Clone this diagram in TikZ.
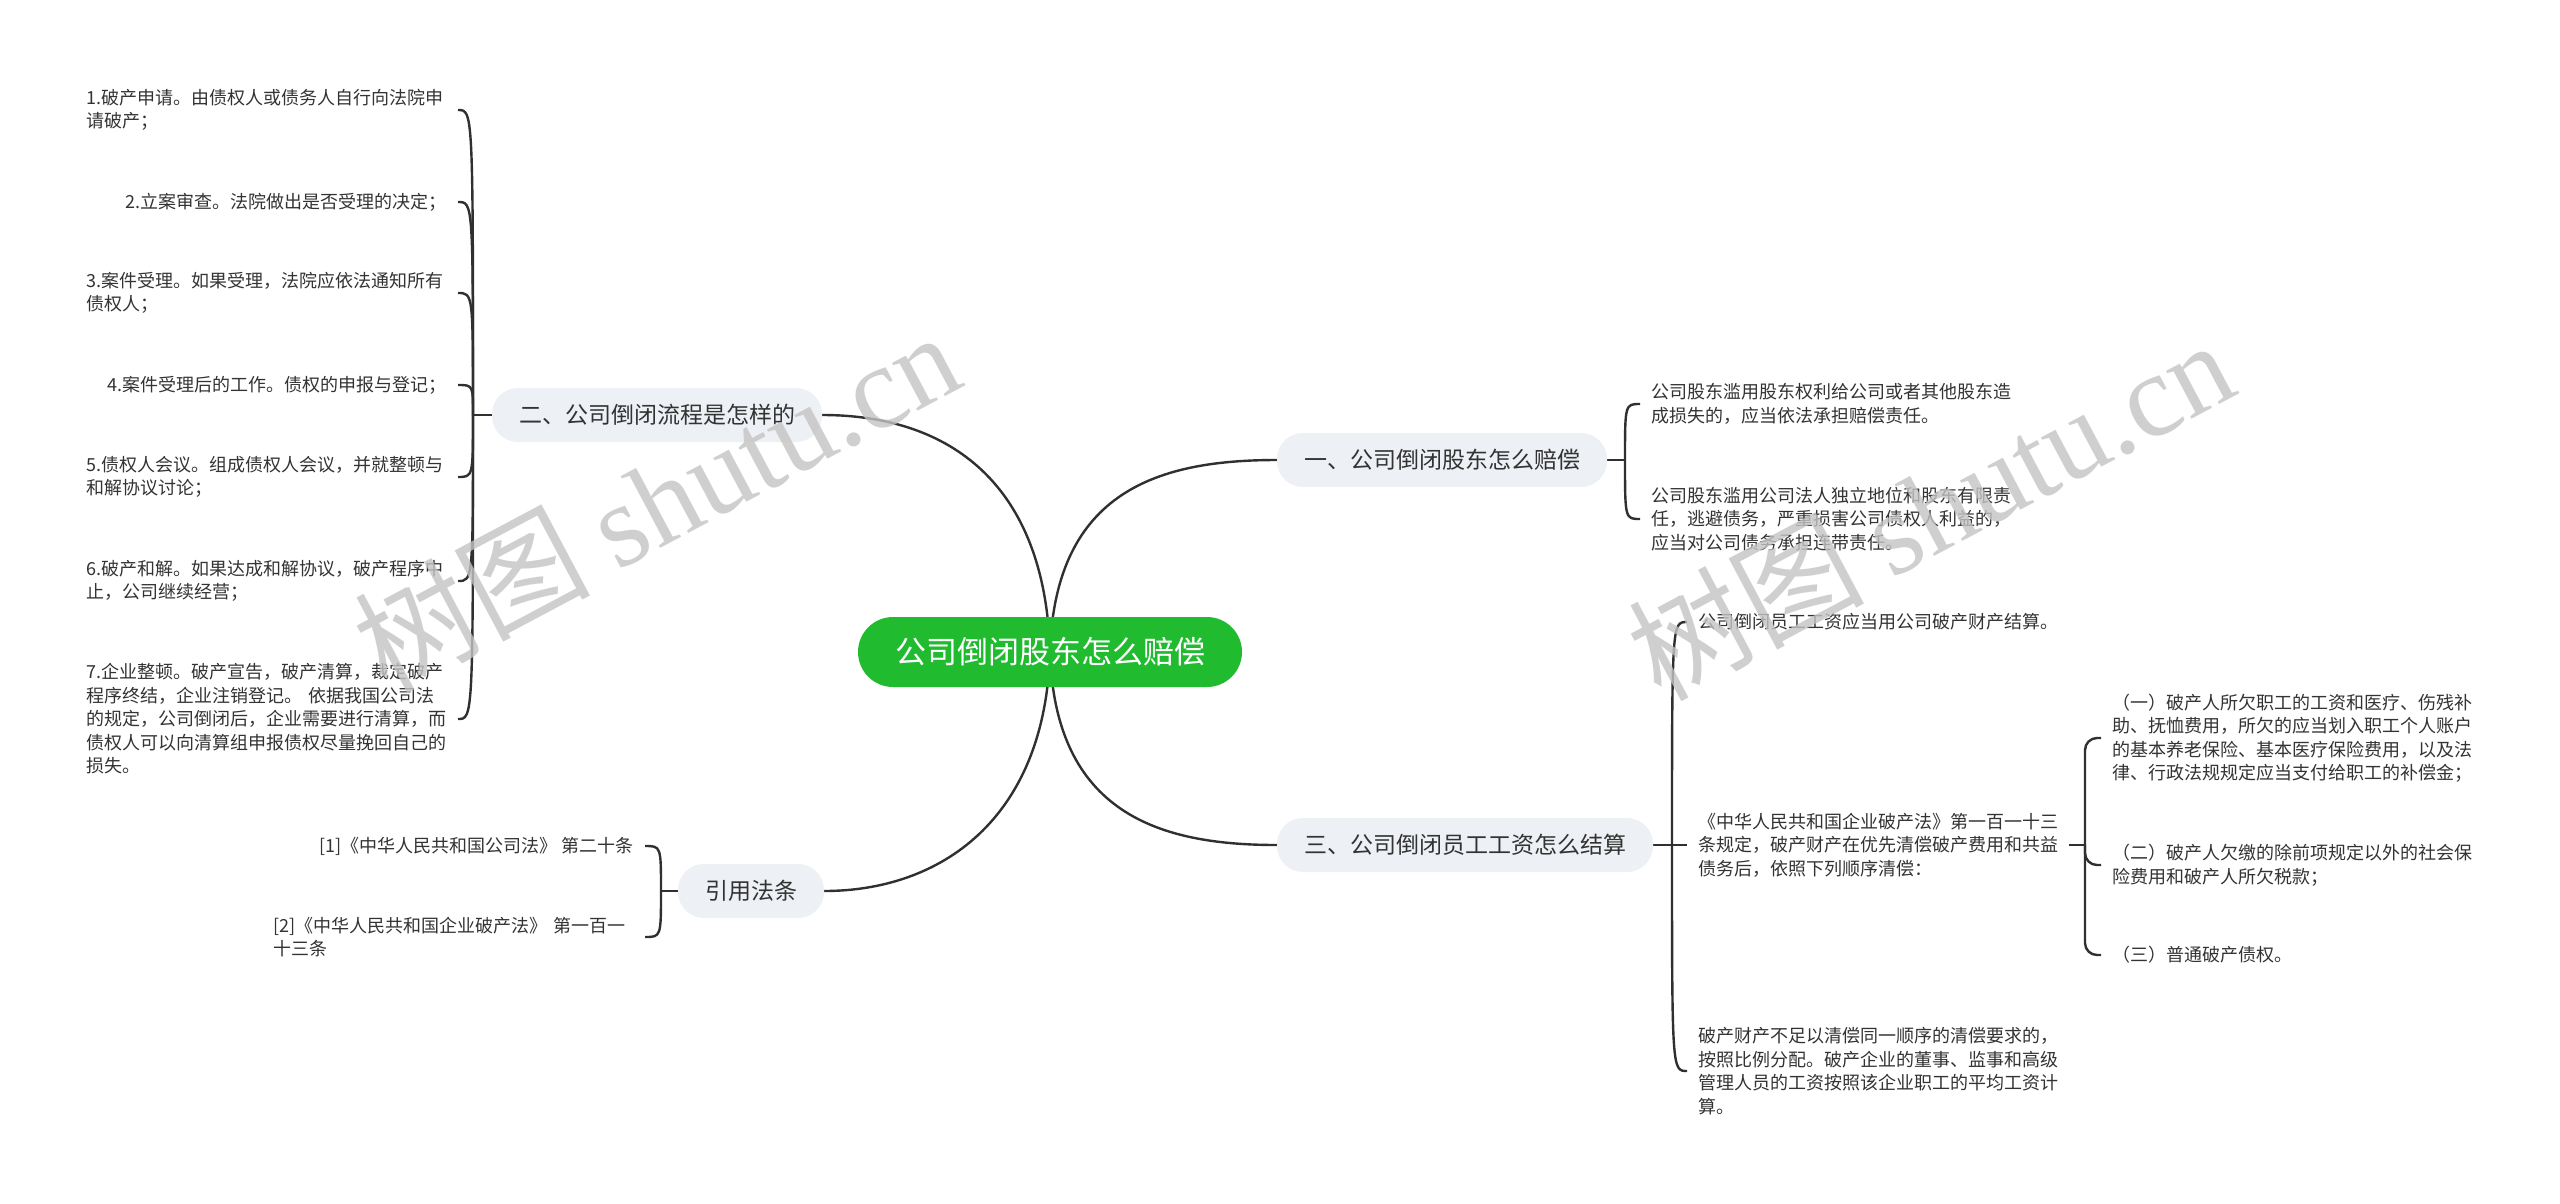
\documentclass[tikz,border=0pt]{standalone}
\usepackage{fontspec}
\setmainfont{Noto Sans CJK SC}
\newfontfamily\wmlatin{Liberation Serif}
\usetikzlibrary{backgrounds}
\definecolor{cgreen}{RGB}{32,187,46}
\definecolor{bgray}{RGB}{237,240,244}
\definecolor{tcol}{RGB}{51,51,51}
\definecolor{lcol}{RGB}{48,48,48}
\definecolor{wmcol}{RGB}{196,196,196}
\tikzset{
  central/.style={fill=cgreen, text=white, rounded corners=35pt, minimum height=70pt,
    inner xsep=37pt, inner ysep=0pt, font=\fontsize{31}{36}\selectfont},
  branch/.style={fill=bgray, text=tcol, rounded corners=26pt, minimum height=54pt,
    inner xsep=27pt, inner ysep=0pt, font=\fontsize{23}{28}\selectfont},
  leaf/.style={text=tcol, align=left, inner xsep=11pt, inner ysep=0pt,
    font=\fontsize{18}{23.5}\selectfont},
  wide/.style={text width=360pt},
  link/.style={draw=lcol, line width=2.4pt},
  orthlink/.style={link, rounded corners=12pt},
  wm/.style={text=wmcol, opacity=0.8, inner sep=0pt, font=\fontsize{118}{118}\selectfont}
}
\begin{document}
\begin{tikzpicture}[x=1pt, y=-1pt]
\begin{pgfonlayer}{background}
  \fill[white] (0,0) rectangle (2560,1203);
\end{pgfonlayer}
\useasboundingbox (0,0) rectangle (2560,1203);

% central and branches
\node[central] (C) at (1050,652) {公司倒闭股东怎么赔偿};
\node[branch] (B1) at (1442,460) {一、公司倒闭股东怎么赔偿};
\node[branch] (B2) at (657,415) {二、公司倒闭流程是怎样的};
\node[branch] (B3) at (1465,845) {三、公司倒闭员工工资怎么结算};
\node[branch] (B4) at (751,891) {引用法条};

% junctions
\coordinate (J1) at (1625,460);
\coordinate (J2) at (473,415);
\coordinate (J3) at (1672,845);
\coordinate (J4) at (661,891);
\coordinate (J5) at (2085,845);

% leaves of branch 2
\node[leaf, wide, anchor=east] (L1) at (458,110) {1.破产申请。由债权人或债务人自行向法院申\\请破产；};
\node[leaf, anchor=east] (L2) at (458,202) {2.立案审查。法院做出是否受理的决定；};
\node[leaf, wide, anchor=east] (L3) at (458,293) {3.案件受理。如果受理，法院应依法通知所有\\债权人；};
\node[leaf, anchor=east] (L4) at (458,385) {4.案件受理后的工作。债权的申报与登记；};
\node[leaf, wide, anchor=east] (L5) at (458,477) {5.债权人会议。组成债权人会议，并就整顿与\\和解协议讨论；};
\node[leaf, wide, anchor=east] (L6) at (458,581) {6.破产和解。如果达成和解协议，破产程序中\\止，公司继续经营；};
\node[leaf, wide, anchor=east] (L7) at (458,719) {7.企业整顿。破产宣告，破产清算，裁定破产\\程序终结，企业注销登记。 依据我国公司法\\的规定，公司倒闭后，企业需要进行清算，而\\债权人可以向清算组申报债权尽量挽回自己的\\损失。};

% leaves of branch 1
\node[leaf, wide, anchor=west] (A1) at (1640,404) {公司股东滥用股东权利给公司或者其他股东造\\成损失的，应当依法承担赔偿责任。};
\node[leaf, wide, anchor=west] (A2) at (1640,519) {公司股东滥用公司法人独立地位和股东有限责\\任，逃避债务，严重损害公司债权人利益的，\\应当对公司债务承担连带责任。};

% leaves of branch 3
\node[leaf, anchor=west] (K1) at (1687,622) {公司倒闭员工工资应当用公司破产财产结算。};
\node[leaf, wide, anchor=west] (K2) at (1687,845) {《中华人民共和国企业破产法》第一百一十三\\条规定，破产财产在优先清偿破产费用和共益\\债务后，依照下列顺序清偿：};
\node[leaf, wide, anchor=west] (K3) at (1687,1071) {破产财产不足以清偿同一顺序的清偿要求的，\\按照比例分配。破产企业的董事、监事和高级\\管理人员的工资按照该企业职工的平均工资计\\算。};

\node[leaf, wide, anchor=west] (D1) at (2101,738) {（一）破产人所欠职工的工资和医疗、伤残补\\助、抚恤费用，所欠的应当划入职工个人账户\\的基本养老保险、基本医疗保险费用，以及法\\律、行政法规规定应当支付给职工的补偿金；};
\node[leaf, wide, anchor=west] (D2) at (2101,865) {（二）破产人欠缴的除前项规定以外的社会保\\险费用和破产人所欠税款；};
\node[leaf, anchor=west] (D3) at (2101,955) {（三）普通破产债权。};

% leaves of branch 4
\node[leaf, anchor=east] (R1) at (645,846) {[1]《中华人民共和国公司法》 第二十条};
\node[leaf, wide, anchor=east] (R2) at (645,937) {[2]《中华人民共和国企业破产法》 第一百一\\十三条};

\begin{pgfonlayer}{background}
  % main curves
  \draw[link] (C.center) .. controls (1045,484) and (950,415) .. (B2.east);
  \draw[link] (C.center) .. controls (1055,490) and (1160,460) .. (B1.west);
  \draw[link] (C.center) .. controls (1055,814) and (1160,845) .. (B3.west);
  \draw[link] (C.center) .. controls (1045,820) and (940,891) .. (B4.east);
  % stubs
  \draw[link] (B1.east) -- (J1);
  \draw[link] (B2.west) -- (J2);
  \draw[link] (B3.east) -- (J3);
  \draw[link] (B4.west) -- (J4);
  \draw[link] (K2.east) -- (J5);
  % branch 2 leaves
  \foreach \n in {L1,L2,L3,L4,L5,L6,L7}
    \draw[link] (J2) .. controls (J2 |- \n.east) .. (\n.east);
  % branch 1 leaves
  \foreach \n in {A1,A2}
    \draw[link] (J1) .. controls (J1 |- \n.west) .. (\n.west);
  % branch 3 leaves
  \foreach \n in {K1,K2,K3}
    \draw[link] (J3) .. controls (J3 |- \n.west) .. (\n.west);
  % branch 4 leaves
  \foreach \n in {R1,R2}
    \draw[link] (J4) .. controls (J4 |- \n.east) .. (\n.east);
  % sub-list
  \foreach \n in {D1,D2,D3}
    \draw[orthlink] (J5) |- (\n.west);
\end{pgfonlayer}

% watermarks
\node[wm, rotate=28] (W1) at (656,500) {树图 {\wmlatin shutu.cn}};
\node[wm, rotate=28] (W2) at (1930,508) {树图 {\wmlatin shutu.cn}};
\end{tikzpicture}
\end{document}
